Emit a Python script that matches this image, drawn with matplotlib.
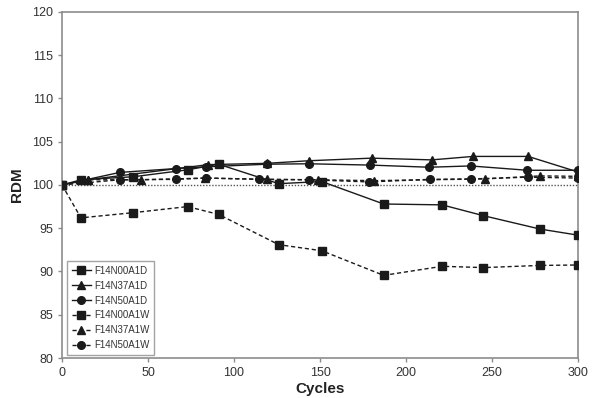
import matplotlib
matplotlib.use("Agg")
import matplotlib.pyplot as plt

plt.rcParams['font.family'] = ['Liberation Sans', 'DejaVu Sans']

x_n00_d = [0, 11, 41.5, 73, 91, 126, 151, 187, 221, 245, 278, 300]
y_n00_d = [100, 100.6, 100.95, 101.75, 102.4, 100.15, 100.4, 97.8, 97.7, 96.45, 94.9, 94.2]

x_n37_d = [0, 15, 85, 119, 143.5, 180, 215, 239, 271, 300]
y_n37_d = [100, 100.6, 102.35, 102.5, 102.8, 103.1, 102.9, 103.3, 103.3, 101.5]

x_n50_d = [0, 33.5, 66.5, 84, 119, 143.5, 179, 213.5, 237.5, 270.5, 300]
y_n50_d = [100, 101.45, 101.9, 102.1, 102.4, 102.45, 102.3, 102.05, 102.2, 101.7, 101.7]

x_n00_w = [0, 11, 41.5, 73, 91, 126, 151, 187, 221, 245, 278, 300]
y_n00_w = [100, 96.2, 96.8, 97.5, 96.6, 93.1, 92.4, 89.55, 90.6, 90.45, 90.7, 90.75]

x_n37_w = [0, 15, 46, 83, 119, 148.6, 181.5, 246, 278, 300]
y_n37_w = [100, 100.6, 100.6, 100.8, 100.65, 100.6, 100.5, 100.7, 101.05, 101.0]

x_n50_w = [0, 33.5, 66.5, 84, 114.5, 143.8, 178.5, 214, 238, 271, 300]
y_n50_w = [100, 100.6, 100.65, 100.8, 100.65, 100.6, 100.35, 100.65, 100.7, 100.9, 100.8]

labels = ['F14N00A1D', 'F14N37A1D', 'F14N50A1D', 'F14N00A1W', 'F14N37A1W', 'F14N50A1W']

fig = plt.figure(figsize=(5.98, 3.98), dpi=100)
ax = fig.add_axes([0.1037, 0.1005, 0.8629, 0.8695])

c = '#1a1a1a'
ms = 5.5
series = [
    (x_n00_d, y_n00_d, 's', '-'),
    (x_n37_d, y_n37_d, '^', '-'),
    (x_n50_d, y_n50_d, 'o', '-'),
    (x_n00_w, y_n00_w, 's', (0, (3, 2))),
    (x_n37_w, y_n37_w, '^', (0, (3, 2))),
    (x_n50_w, y_n50_w, 'o', (0, (3, 2))),
]
ax.axhline(100, color='#555555', linestyle=(0, (1, 1.2)), linewidth=1.0, zorder=1)
for (xs, ys, m, ls), lab in zip(series, labels):
    ax.plot(xs, ys, marker=m, linestyle=ls, color=c, linewidth=1.0,
            markersize=ms, label=lab, zorder=3)

ax.set_xlim(0, 300)
ax.set_ylim(80, 120)
ax.set_xticks(range(0, 301, 50))
ax.set_yticks(range(80, 121, 5))
for s in ax.spines.values():
    s.set_color('#8c8c8c')
    s.set_linewidth(1.2)
ax.tick_params(axis='both', colors='#8c8c8c', labelcolor='#333333',
               labelsize=9, length=3, width=1)
ax.set_xlabel('Cycles', fontsize=11, fontweight='bold', color='#222222', labelpad=2)
ax.set_ylabel('RDM', fontsize=11, fontweight='bold', color='#222222', labelpad=6)

leg = ax.legend(loc='lower left', bbox_to_anchor=(0.01, 0.01), fontsize=7,
                frameon=True, fancybox=False, handlelength=2.0, handletextpad=0.3,
                borderpad=0.45, labelspacing=0.5, borderaxespad=0)
leg.get_frame().set_edgecolor('#8c8c8c')
leg.get_frame().set_linewidth(1.0)
for t in leg.get_texts():
    t.set_color('#333333')

fig.savefig('out.png', dpi=100)
